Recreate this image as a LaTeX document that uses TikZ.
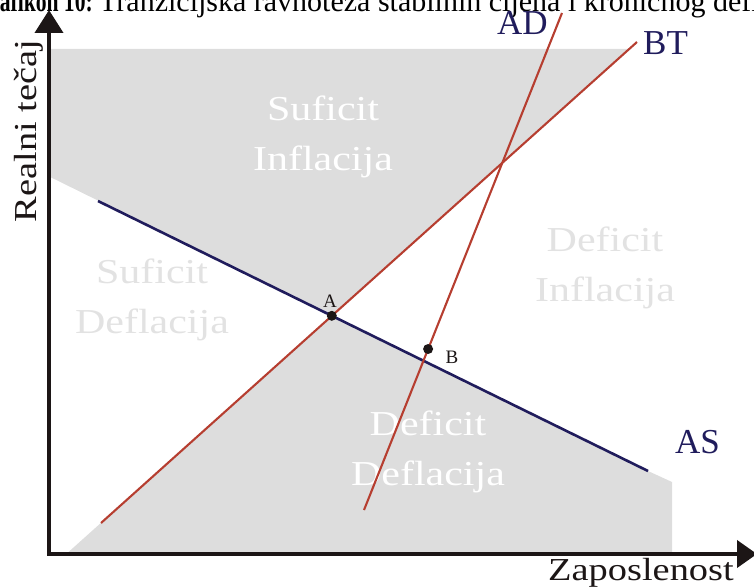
\documentclass[tikz,border=0pt]{standalone}
\usepackage{fontspec}
\setmainfont{Liberation Serif}
\newfontfamily\widefont{Liberation Serif}[FakeStretch=1.2]
\newfontfamily\narrowfont{Liberation Serif}[FakeStretch=0.72]
\usetikzlibrary{arrows.meta}
\definecolor{graybg}{RGB}{221,221,221}
\definecolor{navyc}{RGB}{32,28,92}
\definecolor{redc}{RGB}{182,62,48}
\definecolor{axisc}{RGB}{28,22,22}
\definecolor{palec}{RGB}{226,226,226}
\tikzset{
  region/.style={fill=graybg, draw=none},
  asline/.style={draw=navyc, line width=2.6pt},
  redline/.style={draw=redc, line width=2.1pt},
  axisline/.style={draw=axisc, line width=4pt, line join=miter},
  curvelbl/.style={text=navyc, font=\fontsize{35}{40}\selectfont, inner sep=0pt},
  ptlbl/.style={text=axisc, font=\fontsize{19}{20}\selectfont, inner sep=0pt},
  zonelbl/.style={font=\widefont\fontsize{35}{50}\selectfont, align=center, inner sep=0pt},
  axislbl/.style={text=axisc, font=\widefont\fontsize{32}{36}\selectfont, inner sep=0pt},
  dotc/.style={circle, fill=axisc, inner sep=0pt, minimum size=10pt}
}
\begin{document}
\begin{tikzpicture}[x=1pt,y=-1pt]
\useasboundingbox (0,0) rectangle (754,588);
% key points
\coordinate (asS) at (98,201);
\coordinate (asE) at (648,471);
\coordinate (adT) at (562,13);
\coordinate (adB) at (364,510);
\coordinate (btT) at (637,42);
\coordinate (btB) at (101,523);
\coordinate (pA) at (331.8,315.8);
\coordinate (pB) at (428.1,349);
% caption (clipped at top)
\node[anchor=base west, inner sep=0pt, font=\fontsize{30}{32}\selectfont] (cap) at (99,11.5) {Tranzicijska ravnoteža stabilnih cijena i kroničnog deficita};
\node[anchor=base east, inner sep=0pt, font=\narrowfont\bfseries\fontsize{30}{32}\selectfont] (capb) at (93,11.5) {Grafikon 10:};
% gray zones
\path[region] (51,49) -- (629.2,49) -- (pA) -- (51,177.4) -- cycle;
\path[region] (pA) -- (asE) -- (672,482) -- (672,552) -- (68.5,552) -- cycle;
% zone labels
\node[zonelbl, text=white] (z1) at (323,137) {Suficit\\Inflacija};
\node[zonelbl, text=palec] (z2) at (152,300) {Suficit\\Deflacija};
\node[zonelbl, text=palec] (z3) at (605,268) {Deficit\\Inflacija};
\node[zonelbl, text=white] (z4) at (428,452) {Deficit\\Deflacija};
% curves
\draw[asline] (asS) -- (asE);
\draw[redline] (btB) -- (btT);
\draw[redline] (adB) -- (adT);
% axes
\coordinate (yT) at (49,10);
\coordinate (org) at (49,554);
\coordinate (xT) at (757,554);
\draw[axisline, {Triangle[length=23pt,width=28pt]}-{Triangle[length=20pt,width=27pt]}] (yT) -- (org) -- (xT);
% points
\node[dotc] (dA) at (pA) {};
\node[dotc] (dB) at (pB) {};
\node[ptlbl] (lA) at (330,301) {A};
\node[ptlbl] (lB) at (452,357) {B};
% curve labels
\node[curvelbl, anchor=base west] (lAD) at (497,35) {AD};
\node[curvelbl, anchor=base west] (lBT) at (643,55) {BT};
\node[curvelbl, anchor=base west] (lAS) at (675,453) {AS};
% axis labels
\node[axislbl, rotate=90] (ly) at (29,131) {Realni tečaj};
\node[axislbl, anchor=base west] (lx) at (548,580) {Zaposlenost};
\end{tikzpicture}
\end{document}
